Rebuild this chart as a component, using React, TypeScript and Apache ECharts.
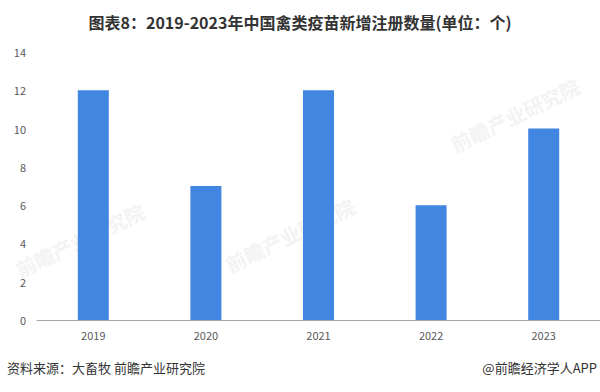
import React, { useEffect, useRef } from "react";
import * as echarts from "echarts";

const categories = ["2019", "2020", "2021", "2022", "2023"];
const values = [12, 7, 12, 6, 10];
const yTicks = { min: 0, max: 14, interval: 2 };
const title = "图表8：2019-2023年中国禽类疫苗新增注册数量(单位：个)";
const source = "资料来源：大畜牧 前瞻产业研究院";
const brand = "@前瞻经济学人APP";
const watermark = "前瞻产业研究院";

export default function App() {
  const ref = useRef<HTMLDivElement>(null);
  useEffect(() => {
    const chart = echarts.init(ref.current!, null, { renderer: "svg" });
    const wm = (x: number, y: number) => ({
      type: "text",
      x,
      y,
      rotation: Math.PI / 7,
      z: -10,
      silent: true,
      style: {
        text: watermark,
        fontSize: 20,
        fontWeight: "bold",
        fontFamily: "Noto Sans CJK SC",
        fill: "#f3f3f3",
        textAlign: "center",
        textVerticalAlign: "middle",
      },
    });
    chart.setOption({
      animation: false,
      backgroundColor: "#ffffff",
      title: {
        text: title,
        left: "center",
        top: 9,
        textStyle: {
          fontFamily: "Noto Sans CJK SC",
          fontSize: 16,
          fontWeight: "bold",
          color: "#333333",
        },
      },
      grid: { left: 37, top: 52, width: 580, height: 268, containLabel: false },
      xAxis: {
        type: "category",
        data: categories,
        axisLine: { lineStyle: { color: "#a6a6a6", width: 1 } },
        axisTick: { show: false },
        axisLabel: {
          color: "#595959",
          fontSize: 11,
          fontFamily: "Noto Sans CJK SC",
          margin: 9,
        },
      },
      yAxis: {
        type: "value",
        min: yTicks.min,
        max: yTicks.max,
        interval: yTicks.interval,
        axisLine: { show: false },
        axisTick: { show: false },
        splitLine: { show: false },
        axisLabel: {
          color: "#595959",
          fontSize: 11,
          fontFamily: "Noto Sans CJK SC",
          margin: 11,
        },
      },
      series: [
        {
          type: "bar",
          data: values,
          barWidth: 31,
          z: 5,
          itemStyle: { color: "#4186e0" },
        },
      ],
      graphic: [
        wm(80, 240),
        wm(290, 235),
        wm(515, 115),
        {
          type: "text",
          x: 7,
          y: 361,
          style: {
            text: source,
            fontSize: 13,
            fontFamily: "Noto Sans CJK SC",
            fill: "#333333",
          },
        },
        {
          type: "text",
          x: 597,
          y: 361,
          style: {
            text: brand,
            fontSize: 13,
            fontFamily: "Noto Sans CJK SC",
            fill: "#333333",
            textAlign: "right",
          },
        },
      ],
    });
    return () => chart.dispose();
  }, []);
  return (
    <div
      ref={ref}
      style={{ position: "fixed", left: 0, top: 0, width: 600, height: 392 }}
    />
  );
}
